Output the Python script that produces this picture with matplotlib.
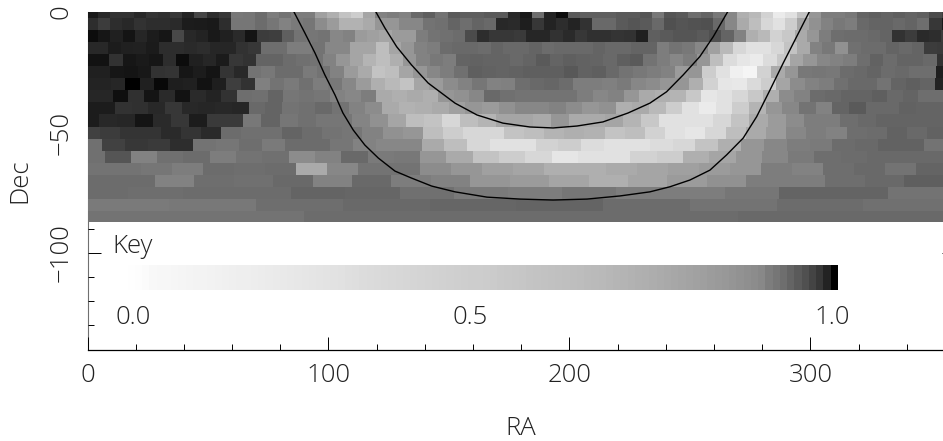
"""Grey-scale sky map in RA and Dec, equal-area cells, with a key below the map."""

import matplotlib

matplotlib.use("Agg")
import matplotlib.pyplot as plt
import numpy as np
from matplotlib.ticker import MultipleLocator

# grey level (0-255) of every cell, one list per declination band
row_00 = [25, 40, 50, 50, 40, 52, 48, 55, 35, 70, 45, 55, 120, 118, 108, 125, 115, 125, 125, 160, 175, 195, 205, 165,
          130, 125, 130, 105, 95, 115, 90, 95, 95, 90, 90, 40, 25, 110, 35, 12, 90, 95, 95, 95, 90, 90, 85, 120,
          85, 90, 110, 100, 120, 135, 175, 185, 210, 235, 225, 195, 150, 125, 125, 120, 100, 95, 100, 95, 100, 95, 75, 60]
row_01 = [45, 60, 45, 40, 50, 45, 45, 42, 28, 27, 25, 45, 118, 118, 108, 118, 130, 122, 118, 140, 155, 178, 178, 170,
          150, 150, 135, 135, 115, 112, 100, 110, 100, 105, 40, 42, 30, 55, 35, 45, 35, 50, 105, 105, 90, 85, 90, 105,
          80, 85, 82, 80, 105, 135, 170, 190, 215, 225, 205, 165, 145, 130, 120, 125, 105, 100, 100, 105, 100, 110, 55, 25]
row_02 = [12, 22, 32, 20, 38, 28, 22, 72, 40, 35, 25, 32, 42, 20, 60, 62, 95, 115, 118, 115, 135, 130, 155, 160,
          165, 155, 155, 125, 115, 112, 108, 75, 45, 55, 55, 58, 38, 38, 50, 42, 55, 48, 48, 52, 50, 32, 95, 90,
          85, 85, 90, 80, 100, 130, 175, 185, 210, 200, 170, 150, 125, 110, 108, 108, 105, 100, 50, 60, 42, 45, 60, 70]
row_03 = [40, 40, 28, 32, 33, 27, 45, 45, 42, 45, 38, 38, 50, 55, 110, 110, 125, 125, 115, 135, 135, 165, 165,
          190, 165, 150, 130, 125, 108, 105, 105, 108, 100, 105, 105, 100, 108, 105, 105, 105, 100, 105, 105, 100, 100, 125,
          115, 120, 135, 160, 185, 215, 225, 225, 215, 195, 170, 130, 120, 145, 112, 108, 108, 100, 105, 100, 60, 58]
row_04 = [18, 18, 50, 22, 26, 22, 45, 12, 32, 38, 27, 55, 50, 100, 100, 108, 112, 115, 130, 150, 165, 180,
          190, 175, 150, 130, 120, 125, 100, 98, 100, 100, 105, 100, 90, 100, 95, 98, 100, 105, 95, 90, 115, 125,
          135, 125, 150, 190, 220, 230, 235, 220, 200, 165, 150, 135, 130, 125, 110, 98, 108, 100, 100, 105, 50]
row_05 = [32, 32, 22, 20, 24, 50, 52, 22, 28, 20, 52, 40, 115, 120, 108, 108, 122, 115, 130, 155, 170,
          195, 190, 165, 150, 135, 125, 112, 95, 98, 100, 98, 95, 95, 95, 88, 98, 95, 105, 115, 120, 125,
          130, 155, 150, 205, 225, 240, 245, 210, 170, 150, 120, 118, 120, 108, 105, 100, 108, 105, 110, 110, 30]
row_06 = [35, 35, 38, 0, 32, 8, 30, 32, 18, 30, 62, 50, 128, 115, 122, 112, 125, 120, 135, 155,
          175, 185, 195, 165, 155, 140, 130, 118, 130, 128, 110, 105, 102, 108, 125, 125, 128, 122, 135, 140,
          150, 150, 175, 210, 230, 232, 218, 205, 165, 140, 130, 125, 112, 105, 105, 115, 100, 95, 100, 35]
row_07 = [38, 38, 15, 48, 20, 42, 18, 42, 35, 50, 110, 112, 100, 118, 115, 118, 130, 135, 125,
          170, 175, 170, 175, 150, 145, 135, 105, 112, 115, 115, 115, 115, 125, 135, 130, 150, 170,
          175, 180, 200, 230, 225, 215, 200, 175, 140, 130, 108, 105, 100, 100, 95, 105, 100, 110, 110]
row_08 = [28, 28, 50, 48, 40, 55, 40, 38, 40, 38, 105, 100, 115, 112, 105, 115, 130, 140,
          170, 178, 175, 170, 160, 150, 155, 145, 135, 135, 130, 140, 150, 145, 175, 170, 185,
          205, 225, 235, 225, 205, 180, 150, 135, 115, 130, 100, 90, 105, 105, 98, 100, 100]
row_09 = [28, 40, 38, 20, 42, 55, 28, 58, 58, 120, 100, 118, 112, 118, 118, 132, 145,
          165, 190, 195, 215, 190, 180, 165, 165, 170, 150, 170, 170, 165, 180, 200, 225,
          225, 225, 215, 195, 170, 155, 140, 125, 125, 110, 105, 100, 100, 100, 100]
row_10 = [65, 60, 52, 52, 42, 52, 42, 108, 112, 112, 100, 108, 115, 118, 130,
          145, 150, 190, 205, 215, 215, 195, 190, 180, 175, 178, 195, 190, 210, 225,
          230, 215, 190, 170, 155, 135, 125, 130, 110, 108, 98, 105, 98]
row_11 = [112, 65, 55, 58, 45, 115, 118, 110, 122, 108, 108, 118, 130,
          135, 135, 170, 190, 215, 225, 225, 210, 205, 220, 225, 225, 220,
          215, 195, 175, 150, 135, 125, 122, 108, 105, 98, 98, 115]
row_12 = [112, 85, 130, 112, 108, 125, 115, 112, 140, 130, 105,
          122, 120, 150, 170, 195, 205, 215, 230, 225, 225, 210,
          205, 175, 165, 150, 135, 122, 110, 108, 105, 105, 105]
row_13 = [115, 115, 118, 125, 108, 110, 108, 170, 135, 115,
          115, 140, 150, 160, 165, 175, 175, 170, 165,
          160, 155, 150, 125, 130, 110, 105, 115, 100]
row_14 = [108, 108, 130, 110, 112, 105, 130, 105, 125, 130, 150, 155, 165, 175, 165,
          155, 145, 125, 125, 110, 105, 95]
row_15 = [108, 110, 108, 108, 100, 102, 112, 122, 125, 118, 125, 125, 118, 100, 100, 115, 115]
row_16 = [122, 120, 110, 105, 102, 100, 108, 115, 108, 112]
row_17 = [115, 108, 108, 105]

rows = [row_00, row_01, row_02, row_03, row_04, row_05, row_06, row_07, row_08,
        row_09, row_10, row_11, row_12, row_13, row_14, row_15, row_16, row_17]

# cells around the full circle, and RA of the first cell's left edge
row_cells = [72, 72, 71, 68, 65, 63, 60, 56, 52, 48, 43, 38, 33, 28, 22, 16, 10, 4]
row_start = [-0.6, -0.6, -0.6, -2.1, -2.0, -2.1, -2.4, -2.4, -2.4, -2.8, -3.1, -3.5, -3.8, -3.5, -4.8, -5.5, -2.0, 0.0]
dec_edges = [0, -2.5, -7.5, -12.5, -17.5, -22.5, -27.5, -32.5, -37.5, -42.5,
             -47.5, -52.5, -57.5, -62.5, -67.5, -72.5, -77.5, -82.5, -87.2]

outer_ra = [85.7, 90.2, 94.4, 98.5, 102.7, 106, 110.3, 115.1, 120.7, 127.6, 134.5, 142.8, 152.5,
            165.8, 179.5, 193.2, 207.3, 221, 233.4, 241.7, 250, 258.3, 265.2, 272.1, 277.7,
            283.2, 288.7, 294.3, 299.5]
outer_dec = [0, -8.7, -17, -26.1, -34.4, -41.9, -49, -55.2, -60.6, -66, -68.9, -72.2, -74.6,
             -76.8, -77.6, -78, -77.6, -76.3, -74.6, -72.5, -69.7, -65.6, -59.3, -52.3, -43.4,
             -32.4, -21.2, -10.2, 0]
inner_ra = [119.7, 123.4, 128.3, 134.5, 141.4, 152.5, 161.6, 172.4, 183.6, 193.2,
            203.1, 213.9, 224.3, 233.4, 240.3, 247.2, 254.1, 259.7, 265.6]
inner_dec = [0, -6.6, -14.4, -22, -29.5, -37.8, -42.7, -46.1, -47.7, -48.1,
             -47.3, -45.6, -41.9, -37.8, -33.1, -26.1, -18.5, -10.2, 0]

key_grey = [255, 255, 254, 253, 251, 248, 247, 247, 246, 245,
            244, 243, 243, 242, 241, 240, 239, 238, 238, 237,
            236, 235, 234, 233, 232, 231, 230, 229, 228, 227,
            226, 225, 223, 222, 220, 219, 218, 217, 216, 215,
            214, 213, 212, 211, 210, 209, 208, 207, 206, 205,
            205, 204, 203, 201, 200, 199, 198, 196, 195, 194,
            193, 192, 191, 190, 189, 187, 186, 185, 183, 181,
            180, 178, 176, 175, 173, 171, 169, 167, 165, 163,
            161, 159, 156, 154, 152, 149, 146, 143, 140, 136,
            125, 118, 110, 100, 90, 80, 68, 55, 35, 0]
key_labels = ["0.0", "0.5", "1.0"]
key_label_ra = [18.9, 158.7, 309]

plt.rcParams["font.family"] = ["Open Sans", "DejaVu Sans"]
plt.rcParams["font.weight"] = "light"
plt.rcParams["axes.labelweight"] = "light"
TEXT = "#222222"
FONT_SIZE = 18.5
W, H = 943, 441


def main() -> None:
    fig = plt.figure(figsize=(W / 100, H / 100), dpi=100)
    ax = fig.add_axes([87.5 / W, (H - 349.5) / H, 867.5 / W, 337.5 / H])

    for i, values in enumerate(rows):
        width = 360 / row_cells[i]
        edges = row_start[i] + width * np.arange(len(values) + 1)
        ax.pcolormesh(edges, dec_edges[i:i + 2], [values], cmap="gray", vmin=0, vmax=255, zorder=1)

    ax.plot(outer_ra, outer_dec, color="black", lw=1.0, zorder=3)
    ax.plot(inner_ra, inner_dec, color="black", lw=1.0, zorder=3)

    key_edges = np.linspace(10.6, 311.4, len(key_grey) + 1)
    ax.pcolormesh(key_edges, [-105, -115.4], [key_grey], cmap="gray", vmin=0, vmax=255, zorder=1)
    ax.text(10.4, -100, "Key", fontsize=FONT_SIZE, color=TEXT, va="baseline", ha="left")
    for label, ra in zip(key_labels, key_label_ra):
        ax.text(ra, -126.6, label, fontsize=FONT_SIZE, color=TEXT, va="center", ha="center")

    ax.set_xlim(0, 360)
    ax.set_ylim(-140, 0)
    ax.set_axisbelow(True)
    ax.xaxis.set_major_locator(MultipleLocator(100))
    ax.xaxis.set_minor_locator(MultipleLocator(20))
    ax.yaxis.set_major_locator(MultipleLocator(50))
    ax.yaxis.set_minor_locator(MultipleLocator(10))
    ax.tick_params(which="major", direction="in", length=9.4, width=0.7, right=True, top=True,
                   labelsize=FONT_SIZE, labelcolor=TEXT, pad=10)
    ax.tick_params(which="minor", direction="in", length=4.6, width=0.7, right=True, top=True)
    plt.setp(ax.get_yticklabels(), rotation=90, va="center")
    ax.spines["top"].set_visible(False)
    ax.spines["left"].set_color("#707070")
    ax.spines["left"].set_zorder(0.5)
    ax.spines["bottom"].set_linewidth(0.9)

    ax.set_xlabel("RA", fontsize=FONT_SIZE, color=TEXT, labelpad=20)
    ax.set_ylabel("Dec", fontsize=FONT_SIZE, color=TEXT, labelpad=12)

    fig.savefig("out.png", dpi=100)
    plt.close(fig)


if __name__ == "__main__":
    main()
